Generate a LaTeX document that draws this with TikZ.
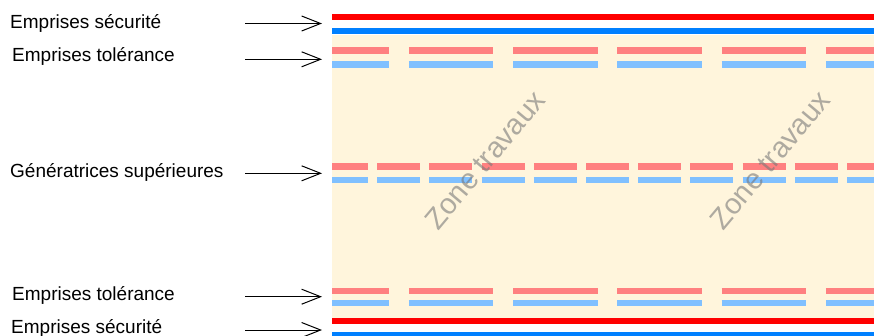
\documentclass[tikz,border=0pt]{standalone}
\usepackage{fontspec}
\setmainfont{Liberation Sans}
\usetikzlibrary{arrows.meta}
\definecolor{zonecol}{RGB}{255,245,220}
\definecolor{secred}{RGB}{255,0,0}
\definecolor{secblue}{RGB}{0,128,255}
\definecolor{tolred}{RGB}{255,128,128}
\definecolor{tolblue}{RGB}{128,192,255}
\definecolor{wmgray}{RGB}{120,120,120}
\begin{document}
\begin{tikzpicture}[x=1pt,y=-1pt,
  lbl/.style={font=\fontsize{19}{23}\selectfont, anchor=base west, inner sep=0pt},
  pointer/.style={line width=1pt, -{Straight Barb[length=19pt,width=15pt,line width=1pt]}},
  solidline/.style={line width=6pt},
  toldash/.style={line width=6.5pt, dash pattern=on 84.5pt off 19.75pt, dash phase=27.5pt},
  gendash/.style={line width=6.5pt, dash pattern=on 43pt off 9.2pt, dash phase=7pt},
  watermark/.style={font=\fontsize{29}{35}\selectfont, text=wmgray, opacity=0.6, rotate=50, inner sep=0pt}]
\useasboundingbox (0,0) rectangle (874,335);
% work zone
\fill[zonecol] (332,34.5) rectangle (874,318);
% security lines top
\draw[solidline, secred]  (332,16.5) -- (874,16.5);
\draw[solidline, secblue] (332,31)   -- (874,31);
% tolerance top
\draw[toldash, tolred]  (332,50.7) -- (874,50.7);
\draw[toldash, tolblue] (332,64.3) -- (874,64.3);
% generatrices
\draw[gendash, tolred]  (332,166.7) -- (874,166.7);
\draw[gendash, tolblue] (332,180)   -- (874,180);
% tolerance bottom
\draw[toldash, tolred]  (332,291) -- (874,291);
\draw[toldash, tolblue] (332,303) -- (874,303);
% security bottom
\draw[solidline, secred]  (332,321)   -- (874,321);
\draw[solidline, secblue] (332,334.5) -- (874,334.5);
% watermarks
\node[watermark] (wm1) at (485,160) {Zone travaux};
\node[watermark] (wm2) at (770,160) {Zone travaux};
% labels
\node[lbl] (l1) at (10,28.3)  {Emprises sécurité};
\node[lbl] (l2) at (12,61.7)  {Emprises tolérance};
\node[lbl] (l3) at (10,177.3) {Génératrices supérieures};
\node[lbl] (l4) at (12,300.7) {Emprises tolérance};
\node[lbl] (l5) at (11,333.3) {Emprises sécurité};
% arrow coordinates
\coordinate (s1) at (245,23.5);  \coordinate (e1) at (322,23.5);
\coordinate (s2) at (245,59.3);  \coordinate (e2) at (322,59.3);
\coordinate (s3) at (245,173.3); \coordinate (e3) at (322,173.3);
\coordinate (s4) at (245,296.7); \coordinate (e4) at (322,296.7);
\coordinate (s5) at (245,330);   \coordinate (e5) at (322,330);
\draw[pointer] (s1) -- (e1);
\draw[pointer] (s2) -- (e2);
\draw[pointer] (s3) -- (e3);
\draw[pointer] (s4) -- (e4);
\draw[pointer] (s5) -- (e5);
\end{tikzpicture}
\end{document}
